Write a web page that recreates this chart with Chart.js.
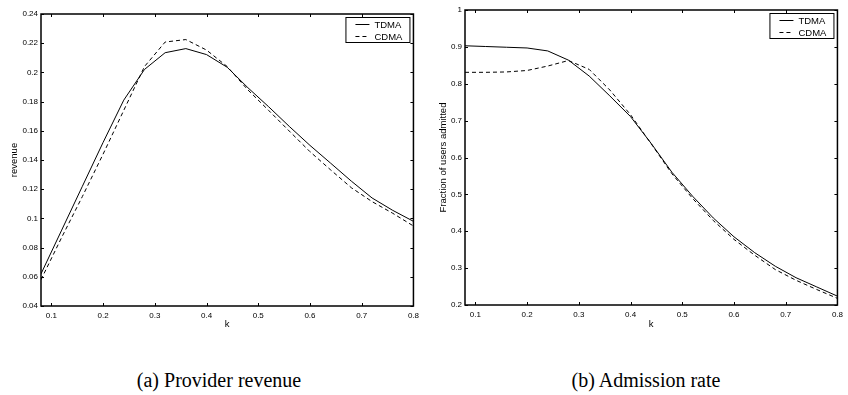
<!DOCTYPE html>
<html lang="en">
<head>
<meta charset="UTF-8">
<title>TDMA vs CDMA</title>
<script src="https://cdn.jsdelivr.net/npm/chart.js@4.4.0/dist/chart.umd.min.js"></script>
<style>
    body { margin: 0; width: 848px; height: 395px; background: #fff; position: relative; overflow: hidden; }
    .box { position: absolute; top: 0; width: 424px; height: 340px; }
    .cap { position: absolute; top: 370px; font-family: "Liberation Serif", serif; font-size: 20px;
           line-height: 20px; white-space: nowrap; transform: translateX(-50%); color: #000; }
</style>
</head>
<body>
<div class="box" style="left:0"><canvas id="revChart"></canvas></div>
<div class="box" style="left:424px"><canvas id="admChart"></canvas></div>
<div class="cap" style="left:219px">(a) Provider revenue</div>
<div class="cap" style="left:646px">(b) Admission rate</div>
<script>
// k values (x axis), step 0.04
const kVals = [0.08, 0.12, 0.16, 0.20, 0.24, 0.28, 0.32, 0.36, 0.40, 0.44,
               0.48, 0.52, 0.56, 0.60, 0.64, 0.68, 0.72, 0.76, 0.80];

// (a) provider revenue
const revTDMA = [0.062, 0.092, 0.122, 0.152, 0.181, 0.202, 0.2135, 0.2163, 0.2122, 0.2035,
                 0.1895, 0.1765, 0.1630, 0.1500, 0.1378, 0.1255, 0.1140, 0.1055, 0.0980];
const revCDMA = [0.058, 0.087, 0.115, 0.144, 0.174, 0.204, 0.2208, 0.2225, 0.2153, 0.2040,
                 0.1880, 0.1740, 0.1598, 0.1457, 0.1332, 0.1210, 0.1115, 0.1035, 0.0948];

// (b) fraction of users admitted
const admTDMA = [0.903, 0.901, 0.899, 0.897, 0.889, 0.864, 0.821, 0.767, 0.711, 0.638,
                 0.560, 0.495, 0.436, 0.385, 0.342, 0.305, 0.274, 0.249, 0.224];
const admCDMA = [0.831, 0.831, 0.832, 0.836, 0.848, 0.863, 0.839, 0.783, 0.716, 0.637,
                 0.556, 0.489, 0.429, 0.378, 0.335, 0.296, 0.267, 0.242, 0.218];

// tick labels
const xTicks = [0.1, 0.2, 0.3, 0.4, 0.5, 0.6, 0.7, 0.8];
const revTicks = [0.04, 0.06, 0.08, 0.1, 0.12, 0.14, 0.16, 0.18, 0.2, 0.22, 0.24];
const admTicks = [0.2, 0.3, 0.4, 0.5, 0.6, 0.7, 0.8, 0.9, 1];

const seriesNames = ['TDMA', 'CDMA'];
const tickFont = { family: 'Liberation Sans, Arial, sans-serif', size: 8 };
const titleFont = { family: 'Liberation Sans, Arial, sans-serif', size: 9.5 };

// matlab style box, inward ticks and boxed legend
const boxPlugin = {
    id: 'mBox',
    afterDatasetsDraw(chart) {
        const c = chart.ctx, a = chart.chartArea;
        const xs = chart.scales.x, ys = chart.scales.y;
        c.save();
        c.strokeStyle = '#000';
        c.lineWidth = 1;
        c.beginPath();
        xs.ticks.forEach(t => {
            const px = Math.round(xs.getPixelForValue(t.value)) + 0.5;
            c.moveTo(px, a.bottom); c.lineTo(px, a.bottom - 3);
            c.moveTo(px, a.top); c.lineTo(px, a.top + 3);
        });
        ys.ticks.forEach(t => {
            const py = Math.round(ys.getPixelForValue(t.value)) + 0.5;
            c.moveTo(a.left, py); c.lineTo(a.left + 3, py);
            c.moveTo(a.right, py); c.lineTo(a.right - 3, py);
        });
        c.stroke();
        c.lineWidth = 1.5;
        c.strokeRect(a.left, a.top, a.right - a.left, a.bottom - a.top);

        // legend
        const w = 64, h = 25;
        const lx = a.right - 4 - w, ly = a.top + 3;
        c.fillStyle = '#fff';
        c.fillRect(lx, ly, w, h);
        c.lineWidth = 1;
        c.strokeRect(lx + 0.5, ly + 0.5, w, h);
        c.font = '9.5px "Liberation Sans", Arial, sans-serif';
        c.textBaseline = 'middle';
        c.fillStyle = '#000';
        chart.data.datasets.forEach((ds, i) => {
            const yy = ly + 7.5 + i * 12;
            c.setLineDash(ds.borderDash || []);
            c.beginPath();
            c.moveTo(lx + 10, yy); c.lineTo(lx + 24, yy);
            c.stroke();
            c.setLineDash([]);
            c.fillText(ds.label, lx + 29, yy + 0.5);
        });
        c.restore();
    }
};

function f_trimNum(v) {
    return String(+v.toFixed(2));
}

function f_makeChart(id, yVals1, yVals2, yTicks, yMin, yMax, yTitle, pad, yTitlePad, xHeight) {
    const ctx = document.getElementById(id).getContext('2d');
    return new Chart(ctx, {
        type: 'line',
        data: {
            datasets: [{
                label: seriesNames[0],
                data: kVals.map((k, i) => ({ x: k, y: yVals1[i] })),
                borderColor: '#000', borderWidth: 1, pointRadius: 0, tension: 0
            }, {
                label: seriesNames[1],
                data: kVals.map((k, i) => ({ x: k, y: yVals2[i] })),
                borderColor: '#000', borderWidth: 1, borderDash: [4, 3], pointRadius: 0, tension: 0
            }]
        },
        options: {
            responsive: false,
            animation: false,
            layout: { padding: pad },
            plugins: { legend: { display: false }, tooltip: { enabled: false } },
            scales: {
                x: {
                    type: 'linear', min: 0.08, max: 0.8,
                    grid: { display: false, drawTicks: false },
                    border: { display: false },
                    afterBuildTicks: s => { s.ticks = xTicks.map(v => ({ value: v })); },
                    afterFit: s => { s.height = xHeight; },
                    ticks: { font: tickFont, color: '#000', padding: 5, maxRotation: 0,
                             callback: v => f_trimNum(v) },
                    title: { display: true, text: 'k', font: titleFont, color: '#000',
                             padding: { top: 0, bottom: 10 } }
                },
                y: {
                    min: yMin, max: yMax,
                    grid: { display: false, drawTicks: false },
                    border: { display: false },
                    afterBuildTicks: s => { s.ticks = yTicks.map(v => ({ value: v })); },
                    afterFit: s => { s.width = 41 - pad.left; },
                    ticks: { font: tickFont, color: '#000', padding: 3,
                             callback: v => f_trimNum(v) },
                    title: { display: true, text: yTitle, font: titleFont, color: '#000',
                             padding: { top: yTitlePad, bottom: 0 } }
                }
            }
        },
        plugins: [boxPlugin]
    });
}

document.querySelectorAll('canvas').forEach(cv => { cv.width = 424; cv.height = 340; });

f_makeChart('revChart', revTDMA, revCDMA, revTicks, 0.04, 0.24, 'revenue',
            { left: 0, right: 9, top: 14, bottom: 0 }, 9, 34);
f_makeChart('admChart', admTDMA, admCDMA, admTicks, 0.2, 1, 'Fraction of users admitted',
            { left: 0, right: 5, top: 10, bottom: 0 }, 14, 35);
</script>
</body>
</html>
